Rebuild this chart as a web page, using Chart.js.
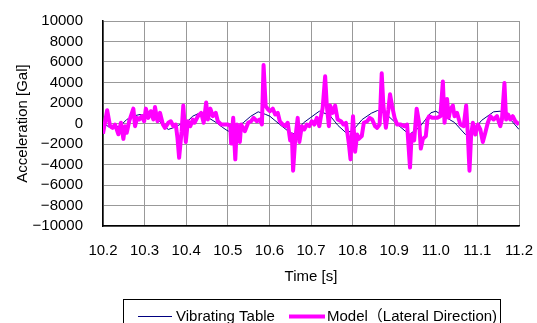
<!DOCTYPE html>
<html>
<head>
<meta charset="utf-8">
<script src="https://cdn.jsdelivr.net/npm/chart.js@4.4.0/dist/chart.umd.min.js"></script>
<style>
  html, body { margin: 0; padding: 0; background: #fff; }
</style>
</head>
<body>
<canvas id="accelChart" width="537" height="323"></canvas>
<script>
// shaking table input, time [s] / acceleration [Gal]
const tableTime = [10.200, 10.217, 10.241, 10.257, 10.275, 10.289, 10.310, 10.329, 10.345, 10.357,
  10.370, 10.385, 10.400, 10.415, 10.433, 10.452, 10.473, 10.488, 10.501, 10.515,
  10.537, 10.555, 10.573, 10.590, 10.601, 10.625, 10.650, 10.660, 10.682, 10.698,
  10.720, 10.745, 10.765, 10.784, 10.800, 10.823, 10.845, 10.860, 10.880, 10.905,
  10.936, 10.960, 10.988, 11.000, 11.020, 11.045, 11.071, 11.090, 11.110, 11.139,
  11.155, 11.175, 11.200]
const tableAccel = [70, -420, -260, 390, 750, 880, 700, 550, -200, -580,
  -400, -100, 70, 700, 1040, 600, 70, -400, -750, -500,
  70, 700, 1140, 900, 710, -100, -900, -1000, 70, 550,
  1200, 800, -200, -900, -700, 390, 1000, 1270, 950, 0,
  -1070, -400, 1040, 1200, 700, 100, -1070, -700, 300, 1140,
  1200, 600, -580]

// model response, lateral direction
const modelTime = [10.200, 10.210, 10.217, 10.223, 10.229, 10.237, 10.243, 10.249, 10.253, 10.257,
  10.263, 10.273, 10.277, 10.282, 10.287, 10.293, 10.299, 10.303, 10.309, 10.315,
  10.321, 10.325, 10.331, 10.337, 10.344, 10.349, 10.357, 10.363, 10.369, 10.375,
  10.379, 10.383, 10.389, 10.393, 10.399, 10.404, 10.410, 10.416, 10.420, 10.428,
  10.436, 10.442, 10.448, 10.452, 10.458, 10.464, 10.471, 10.476, 10.484, 10.492,
  10.500, 10.506, 10.508, 10.513, 10.518, 10.522, 10.529, 10.532, 10.541, 10.549,
  10.556, 10.562, 10.570, 10.577, 10.582, 10.586, 10.591, 10.597, 10.601, 10.608,
  10.614, 10.620, 10.625, 10.632, 10.638, 10.644, 10.650, 10.654, 10.657, 10.662,
  10.668, 10.672, 10.678, 10.684, 10.690, 10.696, 10.702, 10.708, 10.714, 10.720,
  10.724, 10.728, 10.734, 10.738, 10.743, 10.746, 10.752, 10.758, 10.764, 10.772,
  10.778, 10.784, 10.791, 10.795, 10.801, 10.806, 10.811, 10.815, 10.822, 10.827,
  10.835, 10.841, 10.847, 10.854, 10.859, 10.865, 10.870, 10.874, 10.880, 10.886,
  10.890, 10.895, 10.901, 10.907, 10.916, 10.924, 10.931, 10.938, 10.942, 10.948,
  10.954, 10.960, 10.964, 10.969, 10.976, 10.980, 10.984, 10.992, 11.003, 11.011,
  11.017, 11.021, 11.027, 11.031, 11.035, 11.041, 11.045, 11.051, 11.059, 11.067,
  11.073, 11.077, 11.081, 11.085, 11.089, 11.095, 11.101, 11.107, 11.113, 11.119,
  11.125, 11.131, 11.139, 11.147, 11.155, 11.159, 11.165, 11.169, 11.174, 11.179,
  11.185, 11.191, 11.200]
const modelAccel = [-1000, 1300, -260, -420, -100, -1050, 70, -1500, -260, -900,
  220, 1450, -260, 550, 390, 710, 220, 1450, 550, 1200,
  390, 1600, 220, 1040, -100, -420, 70, 220, -260, -100,
  -1390, -3350, -750, 1750, -1800, 220, -260, 390, 70, 710,
  1040, 70, 2050, 390, 1450, 710, 1040, 220, -100, -100,
  -100, -260, -1950, 550, -3500, -100, -1800, -100, -750, 70,
  220, 550, 220, 390, -100, 5700, 1690, 1360, 1200, 1450,
  880, 1040, 220, -100, -260, 70, -1650, -1070, -4600, -1560,
  550, -1800, -260, -580, -100, -260, 220, -100, 550, -260,
  710, 1500, 4600, 1750, -260, 1750, 1040, 1750, 390, 220,
  -100, 70, -1950, -3500, 710, -2750, -1070, -1500, -1230, 70,
  220, 550, 390, -260, -420, -100, 4900, 1750, -420, 1360,
  2850, 1690, 550, -100, -100, -260, -100, -4300, -1070, -1650,
  1450, 70, -2450, -1500, -1230, 390, 710, 550, 550, 710,
  4100, 70, 2400, 550, 1360, 1750, 710, 1040, -100, -260,
  1750, -1070, -4600, -1070, 70, -1070, -100, -580, -1800, -900,
  70, 710, 390, 710, -260, 390, 3950, 390, 880, 390,
  710, 220, -100]

const yTicksMin = -10000
const yTicksMax = 10000
const yTickStep = 2000
const xTicksMin = 10.2
const xTicksMax = 11.2
const xTickStep = 0.1

const toPoints = (xs, ys) => xs.map((x, i) => ({ x: x, y: ys[i] }))

const FONT = '"Liberation Sans", "Noto Sans CJK JP", sans-serif'
Chart.defaults.font.family = FONT
Chart.defaults.font.size = 15
Chart.defaults.color = '#000'

// boxed legend under the x axis title
const boxLegend = {
  id: 'boxLegend',
  afterDraw(chart) {
    const ctx = chart.ctx
    const items = [
      { x0: 138, x1: 172, tx: 176 },
      { x0: 289, x1: 325, tx: 327 }
    ]
    const y = 316.5
    ctx.save()
    ctx.strokeStyle = '#000'
    ctx.lineWidth = 1
    ctx.strokeRect(123.5, 299.5, 377, 40)
    ctx.font = '15px ' + FONT
    ctx.textBaseline = 'middle'
    ctx.textAlign = 'left'
    chart.data.datasets.forEach((ds, i) => {
      const it = items[i]
      ctx.strokeStyle = ds.borderColor
      ctx.lineWidth = ds.borderWidth
      ctx.beginPath()
      ctx.moveTo(it.x0, y)
      ctx.lineTo(it.x1, y)
      ctx.stroke()
      ctx.fillStyle = '#000'
      ctx.fillText(ds.label, it.tx, y)
    })
    ctx.restore()
  }
}

const ctx = document.getElementById('accelChart')
new Chart(ctx, {
  type: 'line',
  data: {
    datasets: [
      {
        label: 'Vibrating Table',
        data: toPoints(tableTime, tableAccel),
        borderColor: '#000080',
        borderWidth: 1,
        pointRadius: 0,
        tension: 0,
        order: 1
      },
      {
        label: 'Model\uFF08Lateral Direction)',
        data: toPoints(modelTime, modelAccel),
        borderColor: '#ff00ff',
        borderWidth: 4,
        borderJoinStyle: 'round',
        pointRadius: 0,
        tension: 0,
        order: 0
      }
    ]
  },
  options: {
    responsive: false,
    animation: false,
    layout: { padding: { top: 21, right: 18, bottom: 37, left: 0 } },
    plugins: {
      legend: { display: false },
      tooltip: { enabled: false }
    },
    scales: {
      x: {
        type: 'linear',
        min: xTicksMin,
        max: xTicksMax,
        // fixed axis box, no extra room for the end labels
        afterFit: (scale) => {
          scale.height = 60
          scale.paddingLeft = 0
          scale.paddingRight = 0
        },
        ticks: {
          stepSize: xTickStep,
          padding: 16,
          maxRotation: 0,
          autoSkip: false,
          callback: (v) => Number(v).toFixed(1)
        },
        grid: { color: '#999', lineWidth: 1, drawTicks: false },
        border: { color: '#000', width: 1.5 },
        title: { display: true, text: 'Time [s]', padding: { top: 0, bottom: 0 } }
      },
      y: {
        min: yTicksMin,
        max: yTicksMax,
        afterFit: (scale) => {
          scale.width = 103
          scale.paddingTop = 0
          scale.paddingBottom = 0
        },
        ticks: {
          stepSize: yTickStep,
          padding: 20,
          autoSkip: false,
          callback: (v) => v < 0 ? '\u2212' + Math.abs(v) : String(v)
        },
        grid: { color: '#999', lineWidth: 1, drawTicks: false },
        border: { color: '#000', width: 1.5 },
        title: { display: true, text: 'Acceleration [Gal]', padding: { top: 14, bottom: 0 } }
      }
    }
  },
  plugins: [boxLegend]
})
</script>
</body>
</html>
